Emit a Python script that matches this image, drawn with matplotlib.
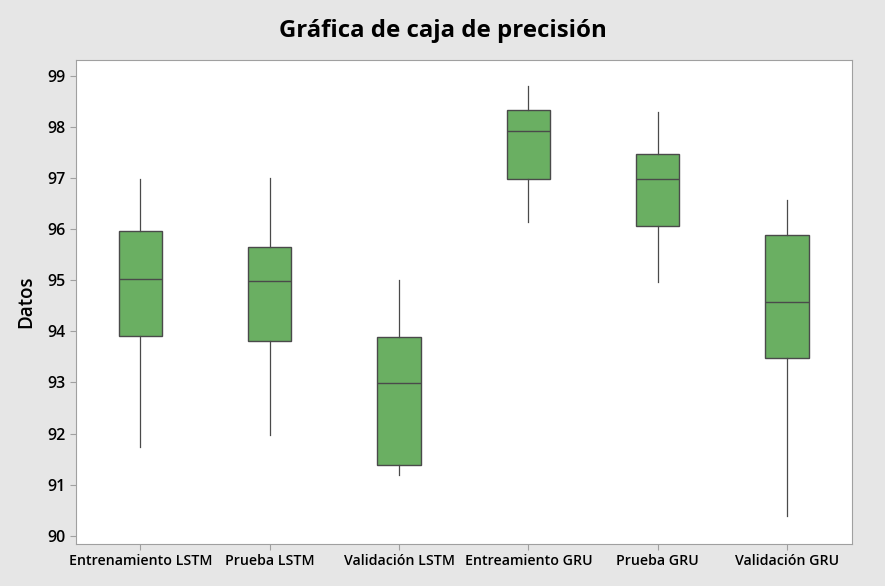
import matplotlib
matplotlib.use("Agg")
import matplotlib.pyplot as plt

plt.rcParams['font.family'] = ['Open Sans', 'DejaVu Sans']

# Box plot statistics
labels = ['Entrenamiento LSTM', 'Prueba LSTM', 'Validación LSTM',
          'Entreamiento GRU', 'Prueba GRU', 'Validación GRU']
whislo = [91.73, 91.98, 91.18, 96.13, 94.97, 90.39]
q1 = [93.90, 93.81, 91.38, 96.99, 96.06, 93.48]
med = [95.03, 94.99, 92.99, 97.92, 96.98, 94.57]
q3 = [95.96, 95.65, 93.89, 98.33, 97.47, 95.88]
whishi = [96.99, 97.00, 95.00, 98.81, 98.29, 96.57]

stats = []
for i in range(len(labels)):
    stats.append(dict(label=labels[i], whislo=whislo[i], q1=q1[i], med=med[i],
                      q3=q3[i], whishi=whishi[i], fliers=[]))

fig = plt.figure(figsize=(8.85, 5.86), dpi=100, facecolor='#e6e6e6')
ax = fig.add_axes([0.0855, 0.0717, 0.877, 0.826])
ax.set_facecolor('white')

edge = '#4a4a4a'
ax.bxp(stats, positions=range(1, 7), widths=0.335, patch_artist=True, showcaps=False,
       boxprops=dict(facecolor='#6aaf62', edgecolor=edge, linewidth=1.0),
       medianprops=dict(color=edge, linewidth=1.0),
       whiskerprops=dict(color=edge, linewidth=0.9))

ax.set_xlim(0.5, 6.5)
ax.set_ylim(89.84, 99.31)
ax.set_yticks(range(90, 100))

for s in ax.spines.values():
    s.set_color('#a0a0a0')
ax.tick_params(axis='both', colors='#a0a0a0', labelcolor='black', length=4, width=0.8)
for t in ax.get_yticklabels():
    t.set_fontsize(11.5)
    t.set_fontweight('semibold')
for t in ax.get_xticklabels():
    t.set_fontsize(10.2)
    t.set_fontweight('semibold')

ax.set_ylabel('Datos', fontsize=13.5, fontweight='semibold', labelpad=8)
fig.text(0.5, 0.947, 'Gráfica de caja de precisión', ha='center', va='center',
         fontsize=17.3, fontweight='bold')

fig.savefig('out.png', dpi=100, facecolor=fig.get_facecolor())
